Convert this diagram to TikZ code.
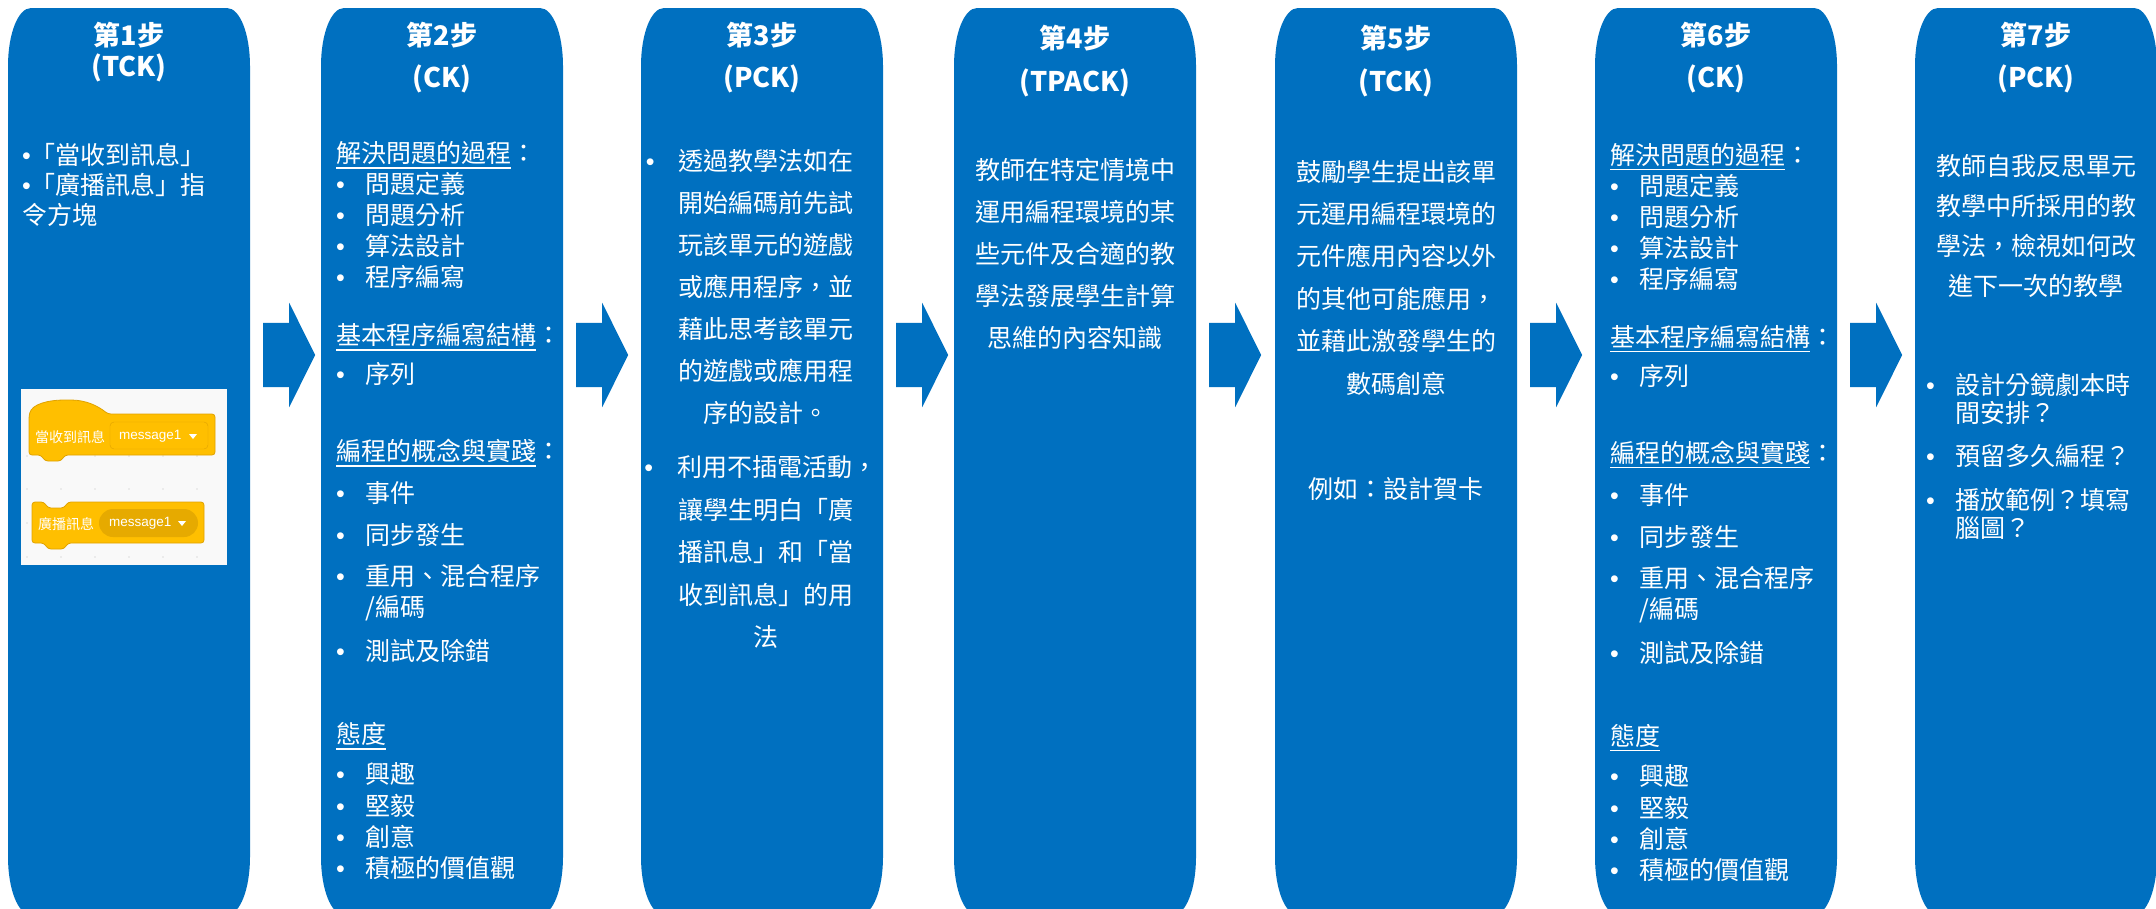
\documentclass[tikz,border=0pt]{standalone}
\usepackage{fontspec}
\setmainfont{Noto Sans CJK TC}
\newfontfamily\blockfont{Liberation Sans}
\usetikzlibrary{shapes.arrows,calc}

\definecolor{stepblue}{HTML}{0070C0}
\definecolor{blockyellow}{HTML}{FFBF00}
\definecolor{blockedge}{HTML}{E0A200}
\definecolor{fielddark}{HTML}{E6AA00}
\definecolor{panelgrey}{HTML}{F9F9F9}
\definecolor{dotgrey}{HTML}{DDDDDD}

% underlined heading, colon stays outside
\newcommand\ulhead[1]{\setbox0=\hbox{#1}\rlap{\rule[-6.3pt]{\wd0}{1.6pt}}\box0}
% round bullet from the latin font, the CJK one is too small
\newcommand\bdot{{\blockfont •}}
\newcommand\bul{\makebox[29pt][l]{\bdot}}

% CK column text (used twice)
\newcommand\ckbody{%
\ulhead{解決問題的過程}：\\
\bul 問題定義\\
\bul 問題分析\\
\bul 算法設計\\
\bul 程序編寫\\[27pt]
\ulhead{基本程序編寫結構}：\\[8pt]
\bul 序列\\[46pt]
\ulhead{編程的概念與實踐}：\\[11pt]
\bul 事件\\[11pt]
\bul 同步發生\\[10pt]
\bul 重用、混合程序\\
\hspace*{29pt}/編碼\\[13pt]
\bul 測試及除錯\\[52pt]
\ulhead{態度}\\[9pt]
\bul 興趣\\[1pt]
\bul 堅毅\\
\bul 創意\\
\bul 積極的價值觀}

\begin{document}
\begin{tikzpicture}[x=1pt, y=-1pt,
    % multi-line nodes sit on the baseline of their last line
    steptitle/.style={text=white, inner sep=0pt, align=center, anchor=base, font=\bfseries\fontsize{27}{31}\selectfont},
    bodytext/.style={text=white, inner sep=0pt, align=left, anchor=base west, font=\fontsize{25}{31}\selectfont},
    midtext/.style={text=white, inner sep=0pt, align=center, anchor=base, font=\fontsize{25}{42}\selectfont},
    flowarrow/.style={single arrow, fill=stepblue, inner xsep=0pt, inner ysep=32pt, minimum height=52pt,
      single arrow head extend=20pt, single arrow tip angle=127, anchor=tail},
    block/.style={fill=blockyellow, draw=blockedge, line width=0.8pt, rounded corners=3pt},
    blocklabel/.style={text=white, inner sep=0pt, anchor=west, font=\fontsize{14}{15}\selectfont},
    fieldlabel/.style={text=white, inner sep=0pt, anchor=west, font=\blockfont\fontsize{13.5}{15}\selectfont}
  ]
  \useasboundingbox (0,0) rectangle (2156,908);
  \fill[white] (0,0) rectangle (2156,908);

  % the seven step columns
  \foreach \i/\x/\ty/\lbl/\gap in {1/8/76/TCK/0, 2/321/87/CK/11, 3/641/87/PCK/11, 4/954/91/TPACK/12,
                                   5/1275/91/TCK/12, 6/1595/87/CK/11, 7/1915/87/PCK/11}{
    \fill[stepblue] (\x,66) .. controls (\x,34) and (\x+10,8) .. (\x+23,8)
      -- (\x+219,8) .. controls (\x+232,8) and (\x+242,34) .. (\x+242,66)
      -- (\x+242,857) .. controls (\x+242,889) and (\x+232,915) .. (\x+219,915)
      -- (\x+23,915) .. controls (\x+10,915) and (\x,889) .. (\x,857) -- cycle;
    \coordinate (step\i) at (\x+121,8);
    \node[steptitle] (title\i) at (\x+121,\ty) {第{\i}步\\[\gap pt](\lbl)};
  }

  % arrows between the columns
  \foreach \i in {1,...,6}
    \node[flowarrow] (arrow\i) at ($(step\i)+(134,347)$) {};

  % step 1
  \node[bodytext, font=\fontsize{25}{30}\selectfont] (text1) at (22,224.5)
    {\bdot「當收到訊息」\\\bdot「廣播訊息」指\\令方塊};

  % scratch blocks
  \fill[panelgrey] (21,389) rectangle (227,565);
  \foreach \dx in {27,61,95,129,163,197}
    \foreach \dy in {456,489,523,557}
      \fill[dotgrey] (\dx,\dy) circle (0.9pt);
  \draw[block] (29,416) .. controls (32,404) and (48,400) .. (68,400)
    .. controls (86,400) and (98,406) .. (108,414) -- (215,414) -- (215,455)
    -- (65,455) -- (61,461) -- (45,461) -- (41,455) -- (29,455) -- cycle;
  \draw[fill=blockyellow, draw=blockedge, rounded corners=4pt] (110,422) rectangle (208,449);
  \node[blocklabel] (hatlabel) at (35,437) {當收到訊息};
  \node[fieldlabel] (hatfield) at (119,436) {message1};
  \fill[white] (189,434) -- (197,434) -- (193,439) -- cycle;

  \draw[block] (32,502) -- (44,502) -- (48,508) -- (64,508) -- (68,502) -- (204,502)
    -- (204,543) -- (68,543) -- (64,549) -- (48,549) -- (44,543) -- (32,543) -- cycle;
  \fill[fielddark, rounded corners=14pt] (99,509) rectangle (198,537);
  \node[blocklabel] (sendlabel) at (38,524) {廣播訊息};
  \node[fieldlabel] (sendfield) at (109,523) {message1};
  \fill[white] (178,521) -- (186,521) -- (182,526) -- cycle;

  % step 2 and step 6
  \node[bodytext] (text2) at (336,877.5) {\ckbody};
  \node[bodytext] (text6) at (1610,879) {\ckbody};

  % step 3
  \node[midtext, font=\fontsize{25}{42}\selectfont] (text3a) at (766,422.5)
    {\llap{\bdot\hspace{24pt}}透過教學法如在\\開始編碼前先試\\玩該單元的遊戲\\或應用程序，並\\藉此思考該單元\\的遊戲或應用程\\序的設計。};
  \node[midtext, font=\fontsize{25}{42.5}\selectfont] (text3b) at (766,646.5)
    {\hspace{22pt}\llap{\bdot\hspace{24pt}}利用不插電活動，\\讓學生明白「廣\\播訊息」和「當\\收到訊息」的用\\法};

  % step 4
  \node[midtext] (text4) at (1075,347.5)
    {教師在特定情境中\\運用編程環境的某\\些元件及合適的教\\學法發展學生計算\\思維的內容知識};

  % step 5
  \node[midtext, font=\fontsize{25}{42.4}\selectfont] (text5) at (1396,498.5)
    {鼓勵學生提出該單\\元運用編程環境的\\元件應用內容以外\\的其他可能應用，\\並藉此激發學生的\\數碼創意\\[63pt]例如：設計賀卡};

  % step 7
  \node[midtext, font=\fontsize{25}{40}\selectfont] (text7) at (2036,295.5)
    {教師自我反思單元\\教學中所採用的教\\學法，檢視如何改\\進下一次的教學};
  \node[bodytext, font=\fontsize{25}{28}\selectfont] (list7) at (1926,537.5)
    {\bul 設計分鏡劇本時\\\hspace*{29pt}間安排？\\[15pt]\bul 預留多久編程？\\[16pt]\bul 播放範例？填寫\\\hspace*{29pt}腦圖？};
\end{tikzpicture}
\end{document}
